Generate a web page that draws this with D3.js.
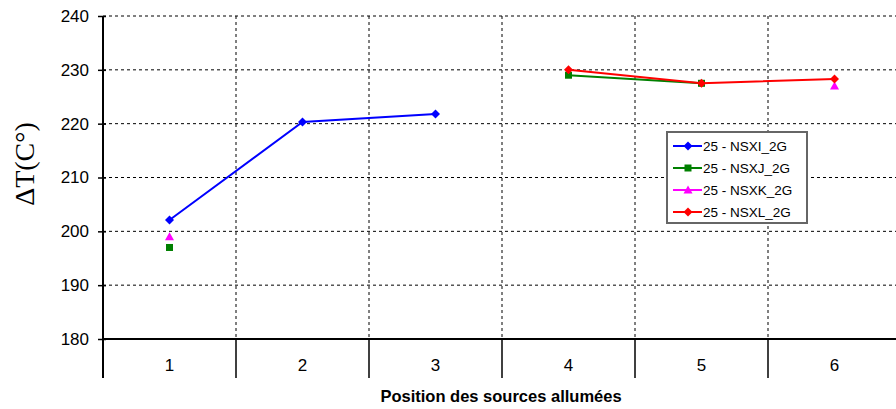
<!DOCTYPE html>
<html><head><meta charset="utf-8">
<script src="https://cdn.jsdelivr.net/npm/d3@7"></script>
<style>body{margin:0;background:#fff}svg{display:block}</style>
</head><body>
<svg id="c" width="896" height="409"></svg>
<script>
const categories = ["1","2","3","4","5","6"];
const yTicks = [180,190,200,210,220,230,240];
const seriesNames = ["25 - NSXI_2G","25 - NSXJ_2G","25 - NSXK_2G","25 - NSXL_2G"];
const seriesColors = ["#0000ff","#008000","#ff00ff","#ff0000"];
const seriesMarkers = ["diamond","square","triangle","diamond"];
const valuesI = [202.1, 220.3, 221.8, null, null, null];
const valuesJ = [197.0, null, null, 229.0, 227.5, null];
const valuesK = [199.0, null, null, null, null, 227.0];
const valuesL = [null, null, null, 230.0, 227.5, 228.3];
const seriesValues = [valuesI, valuesJ, valuesK, valuesL];

const svg = d3.select("#c");
const L = 103, R = 901, T = 16, B = 339;
const x = d3.scaleBand().domain(categories).range([L, R]);
const y = d3.scaleLinear().domain([180, 240]).range([B, T]);
const FONT = "Arial, 'Liberation Sans', sans-serif";

// grid
const g = svg.append("g");
g.selectAll("line.hg").data(yTicks.filter(d => d > 180)).enter().append("line")
  .attr("x1", L).attr("x2", R).attr("y1", d => y(d)).attr("y2", d => y(d))
  .attr("stroke", "#000").attr("stroke-width", 1).attr("stroke-dasharray", "3,3");
g.selectAll("line.vg").data(categories.slice(1)).enter().append("line")
  .attr("x1", d => x(d)).attr("x2", d => x(d)).attr("y1", T).attr("y2", B)
  .attr("stroke", "#000").attr("stroke-width", 1).attr("stroke-dasharray", "3,3");

// y axis
const ya = svg.append("g").attr("transform", `translate(${L},0)`)
  .call(d3.axisLeft(y).tickValues(yTicks).tickSize(5).tickPadding(9));
ya.select(".domain").remove();
ya.selectAll(".tick line").attr("x1", -5).attr("x2", 3).attr("stroke-width", 1.5);
ya.selectAll("text").attr("font-family", FONT).attr("font-size", 17).attr("fill", "#000");
svg.append("line").attr("x1", L).attr("x2", L).attr("y1", T).attr("y2", 378).attr("stroke", "#000").attr("stroke-width", 2);

// x axis
svg.append("line").attr("x1", L).attr("x2", R).attr("y1", B).attr("y2", B).attr("stroke", "#000").attr("stroke-width", 2);
svg.selectAll("line.xs").data(categories.slice(1)).enter().append("line")
  .attr("x1", d => x(d)).attr("x2", d => x(d)).attr("y1", B).attr("y2", 378)
  .attr("stroke", "#000").attr("stroke-width", 1.5);
svg.selectAll("text.xl").data(categories).enter().append("text")
  .attr("x", d => x(d) + x.bandwidth()/2).attr("y", 371).attr("text-anchor", "middle")
  .attr("font-family", FONT).attr("font-size", 17).text(d => d);

svg.append("text").attr("x", 501).attr("y", 402).attr("text-anchor", "middle")
  .attr("font-family", FONT).attr("font-size", 16.5).attr("font-weight", "bold")
  .text("Position des sources allumées");
svg.append("text").attr("transform", "translate(34,164) rotate(-90)").attr("text-anchor", "middle")
  .attr("font-family", "'Liberation Serif', 'Times New Roman', serif").attr("font-size", 28)
  .text("ΔT(C°)");

// markers
function marker(sel, type, color, cx, cy) {
  if (type === "diamond") sel.append("path").attr("d", `M${cx},${cy-4.5}L${cx+4.5},${cy}L${cx},${cy+4.5}L${cx-4.5},${cy}Z`).attr("fill", color);
  else if (type === "square") sel.append("rect").attr("x", cx-3.5).attr("y", cy-3.5).attr("width", 7).attr("height", 7).attr("fill", color);
  else sel.append("path").attr("d", `M${cx},${cy-4.5}L${cx+4.5},${cy+3.5}L${cx-4.5},${cy+3.5}Z`).attr("fill", color);
}

const line = d3.line().defined(d => d.v !== null)
  .x(d => x(d.c) + x.bandwidth()/2).y(d => y(d.v));
seriesValues.forEach((vals, i) => {
  const pts = categories.map((c, k) => ({c, v: vals[k]}));
  svg.append("path").datum(pts).attr("d", line).attr("fill", "none")
    .attr("stroke", seriesColors[i]).attr("stroke-width", 2);
  const mg = svg.append("g");
  pts.filter(p => p.v !== null).forEach(p => marker(mg, seriesMarkers[i], seriesColors[i], x(p.c) + x.bandwidth()/2, y(p.v)));
});

// legend
const lg = svg.append("g").attr("transform", "translate(667,132)");
lg.append("rect").attr("width", 140).attr("height", 91).attr("fill", "#fff").attr("stroke", "#666").attr("stroke-width", 2);
seriesNames.forEach((n, i) => {
  const yy = 14 + i * 22;
  lg.append("line").attr("x1", 6).attr("x2", 35).attr("y1", yy).attr("y2", yy).attr("stroke", seriesColors[i]).attr("stroke-width", 2);
  marker(lg, seriesMarkers[i], seriesColors[i], 21, yy);
  lg.append("text").attr("x", 36).attr("y", yy + 5).attr("font-family", FONT)
    .attr("font-size", 13.5).text(n);
});
</script>
</body></html>
